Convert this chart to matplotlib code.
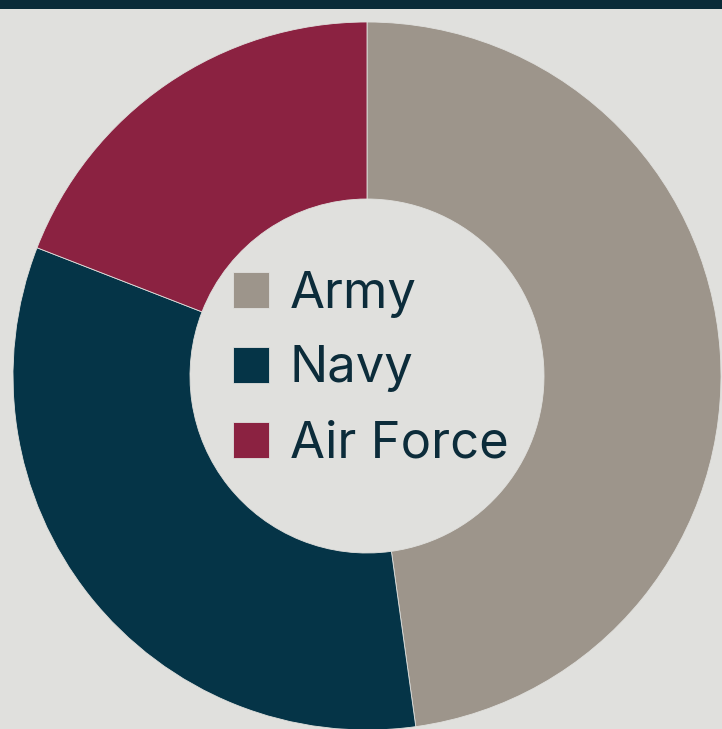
import matplotlib.pyplot as plt
from matplotlib.patches import Rectangle

# donut shares
branches = ['Army', 'Navy', 'Air Force']
shares = [47.8, 33.1, 19.1]
colors = ['#9d958b', '#053447', '#8b2241']

bg = '#e0e0dd'
ink = '#0c2c3a'

W, H = 722, 729
cx, cy, R = 367, 729 - 376, 354  # centre / radius in pixels

fig = plt.figure(figsize=(W / 100, H / 100), dpi=100, facecolor=bg)
ax = fig.add_axes([0, 0, 1, 1])
ax.set_facecolor(bg)

wedges, _ = ax.pie(shares, colors=colors, startangle=90, counterclock=False,
                   radius=1, wedgeprops=dict(width=0.5, edgecolor=bg, linewidth=0.6))

ax.set_xlim(-cx / R, (W - cx) / R)
ax.set_ylim(-cy / R, (H - cy) / R)
ax.set_aspect('auto')
ax.axis('off')

leg = ax.legend(wedges, branches, loc='center', bbox_to_anchor=(0.01, 0.02),
                bbox_transform=ax.transData, frameon=False,
                prop={'family': ['Inter', 'DejaVu Sans'], 'size': 36.5},
                handlelength=0.72, handleheight=0.72, handletextpad=0.4,
                labelspacing=0.55)
for t in leg.get_texts():
    t.set_color(ink)

# dark strip along the top edge
fig.patches.append(Rectangle((0, 1 - 9 / H), 1, 9 / H, transform=fig.transFigure,
                             facecolor='#0a2b38', edgecolor='none', zorder=5))

fig.savefig('out.png', dpi=100, facecolor=bg)
